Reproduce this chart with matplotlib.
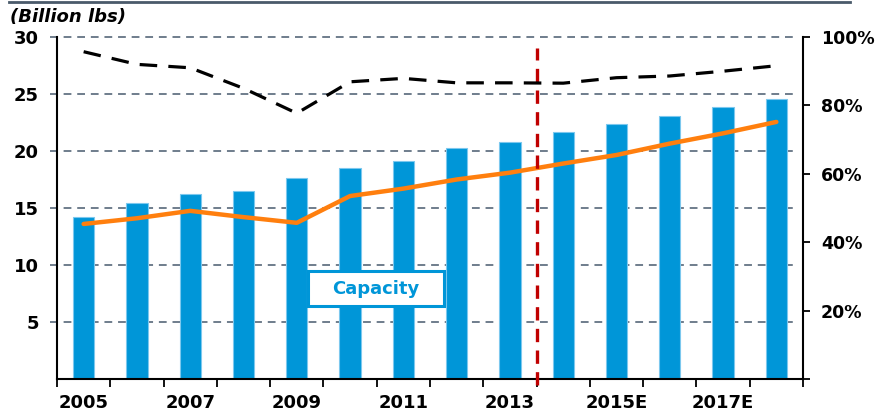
import matplotlib
matplotlib.use("Agg")
import matplotlib.pyplot as plt
from matplotlib.lines import Line2D
from matplotlib.patches import Rectangle
import numpy as np

years = [2005, 2006, 2007, 2008, 2009, 2010, 2011, 2012, 2013, 2014, 2015, 2016, 2017, 2018]
x_labels = ["2005", "", "2007", "", "2009", "", "2011", "", "2013", "", "2015E", "", "2017E", ""]
capacity = [14.2, 15.45, 16.25, 16.5, 17.65, 18.55, 19.1, 20.25, 20.8, 21.65, 22.35, 23.1, 23.9, 24.55]
demand = [13.6, 14.1, 14.75, 14.2, 13.7, 16.05, 16.7, 17.5, 18.1, 18.9, 19.65, 20.65, 21.55, 22.55]
utilization = [95.7, 92.0, 91.0, 85.0, 77.7, 86.9, 87.9, 86.6, 86.6, 86.5, 88.1, 88.6, 90.0, 91.6]
left_ticks = [5, 10, 15, 20, 25, 30]
right_ticks = [0, 20, 40, 60, 80, 100]
forecast_boundary = 8.5

plt.rcParams['font.family'] = ['DejaVu Sans']
fig = plt.figure(figsize=(8.77, 4.13), dpi=100)
ax = fig.add_axes([57/877, 1-379/413, (803-57)/877, (379-37)/413])
ax2 = ax.twinx()

x = np.arange(len(years))
grid_c = '#6f7d8c'
for v in left_ticks:
    ax.plot([-0.63, 13.4], [v, v], color=grid_c, lw=1.4, ls=(0, (4, 3)), clip_on=False, zorder=1)

ax.bar(x, capacity, width=0.4, color='#0096d8', edgecolor='#7cc8ee', linewidth=0.8, zorder=2)
ax.plot(x, demand, color='#ff7f0e', lw=3.2, zorder=4, solid_capstyle='round')
ax.plot([forecast_boundary, forecast_boundary], [-0.5, 29.0], color='#c00000', lw=2.4,
        ls=(0, (4, 2.5)), clip_on=False, zorder=5)

ax.set_xlim(-0.5, 13.5)
ax.set_ylim(0, 30)
ax.set_yticks(left_ticks)
ax.set_yticklabels([str(v) for v in left_ticks], fontsize=13, fontweight='bold')
ax.tick_params(axis='y', length=0, pad=13)
ax.set_xticks(np.arange(-0.5, 14, 1))
ax.set_xticklabels([])
ax.set_xticks(x, minor=True)
ax.set_xticklabels(x_labels, minor=True, fontsize=13, fontweight='bold')
ax.tick_params(axis='x', which='major', direction='out', length=6, width=1.3)
ax.tick_params(axis='x', which='minor', length=0, pad=11)
for s in ['top', 'right']:
    ax.spines[s].set_visible(False)
ax.spines['left'].set_linewidth(1.5)
ax.spines['bottom'].set_linewidth(1.5)

ax2.plot(x, utilization, color='black', lw=2.3, ls=(0, (5.5, 3.5)), zorder=3)
ax2.set_ylim(0, 100)
ax2.set_yticks(right_ticks)
ax2.set_yticklabels(['' if v == 0 else f'{v}%' for v in right_ticks], fontsize=12.5, fontweight='bold')
ax2.tick_params(axis='y', direction='out', length=5, width=1.3, pad=8)
for s in ['top', 'left', 'bottom']:
    ax2.spines[s].set_visible(False)
ax2.spines['right'].set_linewidth(1.5)

# Capacity label box
fig.add_artist(Rectangle((308/877, 1-306/413), (444-308)/877, (306-271)/413,
                         transform=fig.transFigure, fc='white', ec='#0096d8', lw=2.2, zorder=10))
fig.text(376/877, 1-289/413, 'Capacity', ha='center', va='center', fontsize=13,
         fontweight='bold', color='#0096d8', zorder=11)

fig.text(10/877, 1-17/413, '(Billion lbs)', ha='left', va='center', fontsize=13,
         fontweight='bold', fontstyle='italic')

fig.add_artist(Line2D([9/877, 850/877], [1-1.5/413, 1-1.5/413], color='#4a5a6a', lw=2.0))

fig.savefig('out.png', dpi=100)
